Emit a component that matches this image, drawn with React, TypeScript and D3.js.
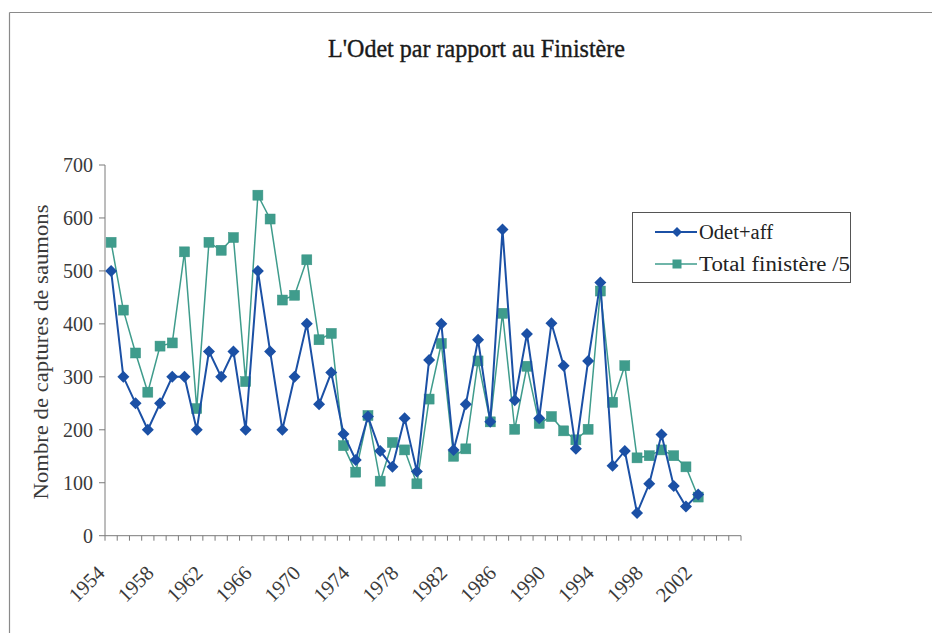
import React from "react";
import * as d3 from "d3";

// Salmon catches per year
const years: number[] = d3.range(1954, 2003);
const odetAff: number[] = [
  500, 300, 250, 200, 250, 300, 300, 200, 348, 300, 348, 200, 500, 348, 200, 300,
  400, 248, 308, 192, 143, 225, 160, 130, 222, 121, 332, 400, 162, 248, 370, 215,
  578, 256, 381, 222, 401, 321, 164, 330, 478, 132, 160, 43, 98, 191, 94, 55, 78,
];
const totalFinistere5: number[] = [
  554, 426, 345, 271, 358, 364, 536, 240, 554, 539, 563, 291, 643, 598, 445, 454,
  521, 370, 382, 170, 120, 227, 103, 176, 162, 98, 258, 363, 150, 164, 330, 215,
  420, 201, 320, 212, 225, 198, 181, 201, 462, 252, 321, 147, 151, 162, 151, 130, 73,
];
// Axis categories run a little past the last year of data
const categories: number[] = d3.range(1954, 2006);
const yTicks: number[] = [0, 100, 200, 300, 400, 500, 600, 700];
const labelYears: number[] = d3.range(1954, 2003, 4);

const seriesNames = ["Odet+aff", "Total finistère /5"];

const W = 932;
const H = 633;
const FONT = "'Liberation Serif', 'Times New Roman', serif";
const BLUE = "#1b50a5";
const TEAL = "#3f9c8c";
const AXIS = "#7a7a7a";

export default function App() {
  const x = d3
    .scaleBand<number>()
    .domain(categories)
    .range([105, 741])
    .paddingInner(0)
    .paddingOuter(0);
  const y = d3.scaleLinear().domain([0, 700]).range([535.7, 165]);
  const cx = (yr: number) => (x(yr) as number) + x.bandwidth() / 2;

  const line = d3
    .line<number>()
    .x((_, i) => cx(years[i]))
    .y((d) => y(d));

  const diamond = (px: number, py: number, r = 6) =>
    `M${px},${py - r}L${px + r},${py}L${px},${py + r}L${px - r},${py}Z`;

  const x0 = 105;
  const x1 = 741;
  const y0 = y(0);

  return (
    <svg
      width={W}
      height={H}
      style={{ position: "absolute", left: 0, top: 0, background: "#fff" }}
      fontFamily={FONT}
    >
      <rect x={0} y={0} width={W} height={H} fill="#fff" />
      {/* chart frame */}
      <line x1={9.5} y1={12.5} x2={W} y2={12.5} stroke="#8a8a8a" strokeWidth={1.2} />
      <line x1={9.5} y1={12.5} x2={9.5} y2={H} stroke="#8a8a8a" strokeWidth={1.2} />

      {/* title */}
      <text
        x={476.5}
        y={57}
        textAnchor="middle"
        fontSize={26}
        fill="#1a1a1a"
        stroke="#1a1a1a"
        strokeWidth={0.4}
        textLength={297}
        lengthAdjust="spacingAndGlyphs"
      >
        L'Odet par rapport au Finistère
      </text>

      {/* y axis */}
      <line x1={x0} y1={y(700)} x2={x0} y2={y0} stroke={AXIS} strokeWidth={1} />
      {yTicks.map((t) => (
        <g key={t}>
          <line x1={x0 - 6} x2={x0} y1={y(t)} y2={y(t)} stroke={AXIS} strokeWidth={1} />
          <text
            x={93}
            y={y(t)}
            dy="0.35em"
            textAnchor="end"
            fontSize={20}
            fill="#3a3a3a"
          >
            {t}
          </text>
        </g>
      ))}
      <text
        transform={`translate(48,${352}) rotate(-90)`}
        textAnchor="middle"
        fontSize={21}
        fill="#3a3a3a"
        textLength={295}
        lengthAdjust="spacingAndGlyphs"
      >
        Nombre de captures de saumons
      </text>

      {/* x axis */}
      <line x1={x0} y1={y0} x2={x1} y2={y0} stroke={AXIS} strokeWidth={1} />
      {categories.concat([2006]).map((c, i) => {
        const px = x0 + i * x.bandwidth();
        return (
          <line key={c} x1={px} x2={px} y1={y0} y2={y0 + 5} stroke={AXIS} strokeWidth={1} />
        );
      })}
      {labelYears.map((yr) => (
        <text
          key={yr}
          transform={`translate(${cx(yr) - 5},${y0 + 38.5}) rotate(-45)`}
          textAnchor="end"
          fontSize={20.5}
          fill="#3a3a3a"
        >
          {yr}
        </text>
      ))}

      {/* Total finistère /5 */}
      <path d={line(totalFinistere5) || ""} fill="none" stroke={TEAL} strokeWidth={1.5} />
      {totalFinistere5.map((v, i) => (
        <rect
          key={i}
          x={cx(years[i]) - 5}
          y={y(v) - 5}
          width={10}
          height={10}
          fill={TEAL}
          stroke="#3a9484"
          strokeWidth={0.5}
        />
      ))}

      {/* Odet + affluents */}
      <path d={line(odetAff) || ""} fill="none" stroke={BLUE} strokeWidth={2} />
      {odetAff.map((v, i) => (
        <path key={i} d={diamond(cx(years[i]), y(v))} fill={BLUE} />
      ))}

      {/* legend */}
      <rect x={632.5} y={212.5} width={218} height={70} fill="#fff" stroke="#555" strokeWidth={1} />
      <line x1={655} x2={697} y1={232} y2={232} stroke={BLUE} strokeWidth={2} />
      <path d={diamond(677, 232, 5)} fill={BLUE} />
      <text
        x={699}
        y={232}
        dy="0.35em"
        fontSize={20}
        fill="#222"
        textLength={74}
        lengthAdjust="spacingAndGlyphs"
      >
        {seriesNames[0]}
      </text>
      <line x1={655} x2={697} y1={264} y2={264} stroke={TEAL} strokeWidth={1.5} />
      <rect x={672.5} y={259.5} width={9} height={9} fill={TEAL} />
      <text
        x={699}
        y={264}
        dy="0.35em"
        fontSize={20}
        fill="#222"
        textLength={151}
        lengthAdjust="spacingAndGlyphs"
      >
        {seriesNames[1]}
      </text>
    </svg>
  );
}
